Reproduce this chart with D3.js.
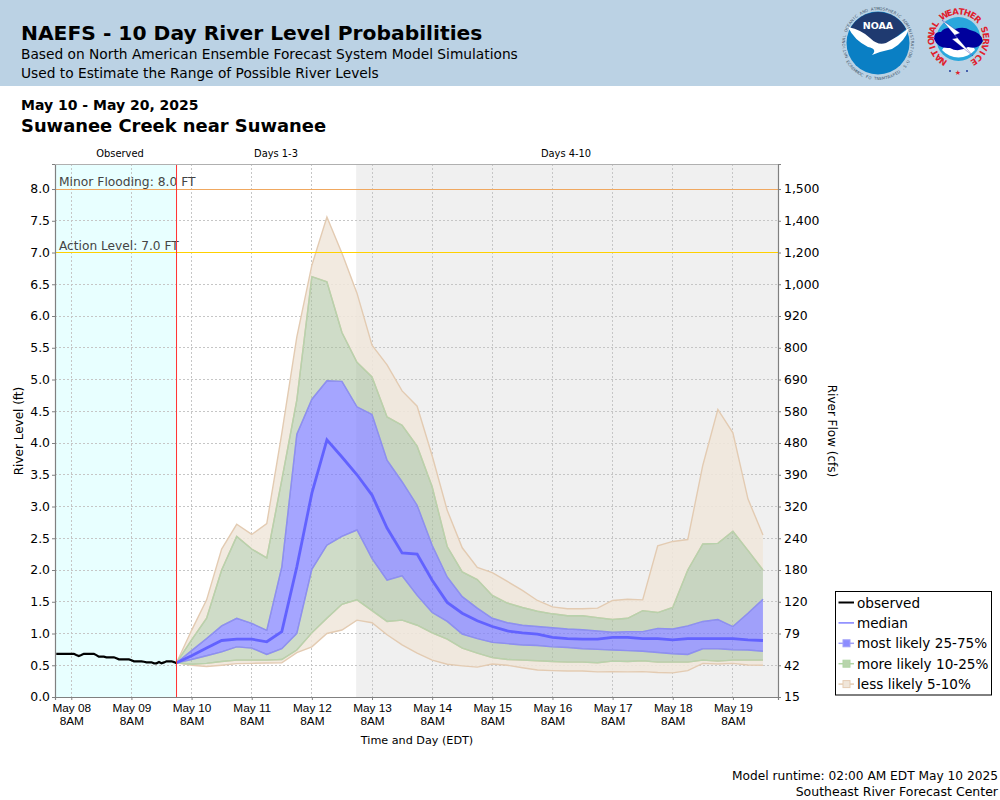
<!DOCTYPE html>
<html>
<head>
<meta charset="utf-8">
<script src="https://cdn.jsdelivr.net/npm/d3@7"></script>
<style>
  html, body { margin: 0; padding: 0; background: #fff; }
  svg { display: block; font-family: "DejaVu Sans", sans-serif; }
</style>
</head>
<body>
<div id="d3"></div>
<script>
// river level in ft, hourly from May 08 2AM
const observed = [
  0.68, 0.68, 0.68, 0.68, 0.68, 0.68, 0.68, 0.68, 0.66, 0.645, 0.66, 0.68, 0.68, 0.68, 0.68, 0.68,
  0.66, 0.635, 0.635, 0.635, 0.625, 0.625, 0.625, 0.625, 0.61, 0.593, 0.593, 0.593, 0.593, 0.593,
  0.58, 0.562, 0.562, 0.562, 0.562, 0.555, 0.546, 0.546, 0.546, 0.53, 0.53, 0.55, 0.53, 0.545,
  0.562, 0.562, 0.562, 0.55, 0.53
];

// forecast percentiles in ft, 6-hourly from May 10 2AM
const p95 = [
  0.54, 1.05, 1.53, 2.33, 2.72, 2.56, 2.73, 4.15, 5.67, 6.8, 7.56, 6.99, 6.36, 5.54, 5.23, 4.82, 4.58, 3.8, 2.94, 2.35,
  2.04, 1.96, 1.82, 1.68, 1.52, 1.42, 1.39, 1.39, 1.4, 1.52, 1.54, 1.53, 2.38, 2.45, 2.48, 3.65, 4.53, 4.16, 3.12, 2.55
];
const p90 = [
  0.54, 0.9, 1.24, 2.0, 2.53, 2.33, 2.19, 3.42, 4.68, 6.62, 6.54, 5.74, 5.27, 5.04, 4.41, 4.28, 3.95, 3.31, 2.37, 1.97,
  1.85, 1.6, 1.48, 1.41, 1.35, 1.31, 1.28, 1.28, 1.25, 1.22, 1.24, 1.36, 1.33, 1.41, 2.0, 2.41, 2.42, 2.61, 2.31, 2.0
];
const p75 = [
  0.54, 0.73, 0.92, 1.12, 1.24, 1.16, 1.05, 2.05, 4.14, 4.69, 4.98, 4.97, 4.57, 4.45, 3.73, 3.39, 3.02, 2.39, 1.89, 1.58,
  1.4, 1.24, 1.17, 1.13, 1.11, 1.09, 1.07, 1.06, 1.04, 1.02, 1.03, 1.03, 1.08, 1.07, 1.12, 1.19, 1.22, 1.11, 1.32, 1.54
];
const p50 = [
  0.54, 0.65, 0.77, 0.89, 0.91, 0.91, 0.87, 1.03, 2.05, 3.21, 4.05, 3.78, 3.5, 3.18, 2.66, 2.27, 2.25, 1.84, 1.49, 1.32,
  1.2, 1.11, 1.04, 1.01, 0.99, 0.94, 0.92, 0.91, 0.91, 0.94, 0.94, 0.92, 0.92, 0.9, 0.92, 0.92, 0.92, 0.92, 0.9, 0.89
];
const p25 = [
  0.54, 0.59, 0.65, 0.71, 0.79, 0.77, 0.67, 0.76, 1.0, 2.01, 2.39, 2.53, 2.63, 2.18, 1.84, 1.91, 1.6, 1.33, 1.19, 0.99,
  0.92, 0.86, 0.84, 0.82, 0.81, 0.79, 0.78, 0.76, 0.75, 0.74, 0.73, 0.72, 0.7, 0.68, 0.67, 0.76, 0.76, 0.745, 0.74, 0.72
];
const p10 = [
  0.54, 0.515, 0.53, 0.56, 0.58, 0.58, 0.58, 0.59, 0.74, 1.01, 1.24, 1.46, 1.53, 1.36, 1.19, 1.21, 1.13, 1.01, 0.91, 0.77,
  0.69, 0.62, 0.59, 0.58, 0.57, 0.56, 0.55, 0.55, 0.54, 0.565, 0.56, 0.57, 0.55, 0.55, 0.55, 0.58, 0.565, 0.58, 0.58, 0.58
];
const p05 = [
  0.54, 0.5, 0.48, 0.5, 0.525, 0.53, 0.535, 0.54, 0.7, 0.79, 1.0, 1.055, 1.21, 1.17, 0.98, 0.82, 0.69, 0.58, 0.515, 0.49,
  0.47, 0.52, 0.5, 0.46, 0.425, 0.415, 0.41, 0.41, 0.395, 0.4, 0.395, 0.4, 0.385, 0.38, 0.415, 0.53, 0.52, 0.53, 0.505, 0.5
];

const levelTicks = [0, 0.5, 1, 1.5, 2, 2.5, 3, 3.5, 4, 4.5, 5, 5.5, 6, 6.5, 7, 7.5, 8];
const flowLabels = ["15", "42", "79", "120", "180", "240", "320", "390", "480", "580", "690", "800", "920", "1,000", "1,200", "1,400", "1,500"];
const dayLabels = ["May 08", "May 09", "May 10", "May 11", "May 12", "May 13", "May 14", "May 15", "May 16", "May 17", "May 18", "May 19"];
const legendLabels = ["observed", "median", "most likely 25-75%", "more likely 10-25%", "less likely 5-10%"];

const width = 1000;
const height = 800;
const margin = { top: 164, right: 222, bottom: 103, left: 55 };

const svg = d3.select("#d3").append("svg").attr("width", width).attr("height", height);

function addText(x, y, str, size, weight = "normal", anchor = "start", fill = "#000") {
  return svg
    .append("text")
    .attr("x", x)
    .attr("y", y)
    .attr("font-size", size)
    .attr("font-weight", weight)
    .attr("text-anchor", anchor)
    .attr("fill", fill)
    .text(str);
}

// header
svg.append("rect").attr("width", width).attr("height", 86).attr("fill", "#bbd2e4");
addText(21, 40, "NAEFS - 10 Day River Level Probabilities", 20.25, "bold");
addText(21, 59, "Based on North American Ensemble Forecast System Model Simulations", 13.76);
addText(21, 78, "Used to Estimate the Range of Possible River Levels", 13.76);
addText(21, 110, "May 10 - May 20, 2025", 14, "bold");
addText(21, 132, "Suwanee Creek near Suwanee", 17.9, "bold");

const t0 = new Date(Date.UTC(2025, 4, 8, 1, 30));
const t1 = new Date(Date.UTC(2025, 4, 20, 2, 0));
const now = new Date(Date.UTC(2025, 4, 10, 2, 0));
const day4 = new Date(Date.UTC(2025, 4, 13, 1, 40));
const obsStart = new Date(Date.UTC(2025, 4, 8, 2, 0));

const x = d3.scaleUtc().domain([t0, t1]).range([margin.left, width - margin.right]);
const y = d3.scaleLinear().domain([0, 8.394]).range([height - margin.bottom, margin.top]);
const plotTop = margin.top;
const plotBottom = height - margin.bottom;
const plotLeft = margin.left;
const plotRight = width - margin.right;

const tickDates = dayLabels.map((d, i) => new Date(Date.UTC(2025, 4, 8 + i, 8)));
const obsTimes = observed.map((d, i) => d3.utcHour.offset(obsStart, i));
const fcstTimes = p50.map((d, i) => d3.utcHour.offset(now, i * 6));

// background periods
svg.append("rect").attr("x", plotLeft).attr("y", plotTop).attr("width", x(now) - plotLeft)
  .attr("height", plotBottom - plotTop).attr("fill", "#e8ffff");
svg.append("rect").attr("x", x(day4)).attr("y", plotTop).attr("width", plotRight - x(day4))
  .attr("height", plotBottom - plotTop).attr("fill", "#f0f0f0");

// grid
const grid = svg.append("g").attr("stroke", "#c6c6c6").attr("stroke-dasharray", "2,2").attr("stroke-width", 1)
  .attr("shape-rendering", "crispEdges");
grid.selectAll(".gx").data(tickDates).enter().append("line")
  .attr("x1", (d) => x(d)).attr("x2", (d) => x(d)).attr("y1", plotTop).attr("y2", plotBottom);
grid.selectAll(".gy").data(levelTicks.filter((d) => d > 0 && d !== 7 && d !== 8)).enter().append("line")
  .attr("x1", plotLeft).attr("x2", plotRight).attr("y1", (d) => y(d)).attr("y2", (d) => y(d));

// probability bands
function ribbon(lo, hi, fill, stroke) {
  const area = d3.area().x((d, i) => x(fcstTimes[i])).y0((d, i) => y(lo[i])).y1((d, i) => y(hi[i]));
  svg.append("path").datum(lo).attr("d", area).attr("fill", fill).attr("stroke", "none");
  const edge = d3.line().x((d, i) => x(fcstTimes[i])).y((d) => y(d));
  svg.append("path").datum(lo).attr("d", edge).attr("fill", "none").attr("stroke", stroke).attr("stroke-width", 1.4);
  svg.append("path").datum(hi).attr("d", edge).attr("fill", "none").attr("stroke", stroke).attr("stroke-width", 1.4);
}
const tanFill = "rgba(240,230,218,0.85)";
const tanEdge = "#e3cbb2";
const greenFill = "rgba(170,193,157,0.56)";
const greenEdge = "#b8d2ac";
const blueFill = "rgba(122,122,255,0.68)";
const blueEdge = "#8e8ef2";
ribbon(p05, p10, tanFill, tanEdge);
ribbon(p90, p95, tanFill, tanEdge);
ribbon(p10, p25, greenFill, greenEdge);
ribbon(p75, p90, greenFill, greenEdge);
ribbon(p25, p75, blueFill, blueEdge);

svg.append("path").datum(p50)
  .attr("d", d3.line().x((d, i) => x(fcstTimes[i])).y((d) => y(d)))
  .attr("fill", "none").attr("stroke", "#6262ff").attr("stroke-width", 2.8);

svg.append("path").datum(observed)
  .attr("d", d3.line().x((d, i) => x(obsTimes[i])).y((d) => y(d)))
  .attr("fill", "none").attr("stroke", "#000").attr("stroke-width", 2.2);

// thresholds
svg.append("line").attr("x1", plotLeft).attr("x2", plotRight).attr("y1", y(8)).attr("y2", y(8))
  .attr("stroke", "#f0a860").attr("stroke-width", 1).attr("shape-rendering", "crispEdges");
svg.append("line").attr("x1", plotLeft).attr("x2", plotRight).attr("y1", y(7)).attr("y2", y(7))
  .attr("stroke", "#ffd000").attr("stroke-width", 1).attr("shape-rendering", "crispEdges");
addText(59, 186, "Minor Flooding: 8.0 FT", 12.3, "normal", "start", "#444");
addText(59, 250, "Action Level: 7.0 FT", 12.2, "normal", "start", "#444");

svg.append("line").attr("x1", x(now)).attr("x2", x(now)).attr("y1", plotTop).attr("y2", plotBottom)
  .attr("stroke", "#ff3030").attr("stroke-width", 1);

// axes
const yAxis = svg.append("g").attr("transform", `translate(${plotLeft},0)`)
  .call(d3.axisLeft(y).tickValues(levelTicks).tickFormat(d3.format(".1f")).tickSize(3).tickPadding(2));
const yAxisRight = svg.append("g").attr("transform", `translate(${plotRight},0)`)
  .call(d3.axisRight(y).tickValues(levelTicks).tickFormat((d, i) => flowLabels[i]).tickSize(3).tickPadding(3));
const xAxis = svg.append("g").attr("transform", `translate(0,${plotBottom})`)
  .call(d3.axisBottom(x).tickValues(tickDates).tickFormat("").tickSize(3));

xAxis.selectAll(".tick").append("text")
  .attr("fill", "#000").attr("font-size", 11.8).attr("y", 15).attr("text-anchor", "middle")
  .text((d, i) => dayLabels[i]);
xAxis.selectAll(".tick").append("text")
  .attr("fill", "#000").attr("font-size", 11.8).attr("y", 27.5).attr("text-anchor", "middle")
  .text("8AM");

for (const a of [yAxis, yAxisRight]) a.selectAll("text").attr("font-size", 12.4).attr("font-family", "DejaVu Sans");
for (const a of [yAxis, yAxisRight, xAxis]) {
  a.select(".domain").attr("stroke", "#808080").attr("stroke-width", 1.2);
  a.selectAll("line").attr("stroke", "#808080");
}

svg.append("line").attr("x1", plotLeft).attr("x2", plotRight).attr("y1", plotTop + 0.5).attr("y2", plotTop + 0.5)
  .attr("stroke", "#b0b0b0").attr("stroke-width", 1);

// period labels and axis titles
addText(120, 157, "Observed", 9.9, "normal", "middle");
addText(276, 157, "Days 1-3", 9.9, "normal", "middle");
addText(566, 157, "Days 4-10", 9.9, "normal", "middle");
addText(417, 744, "Time and Day (EDT)", 11.2, "normal", "middle");
addText(0, 0, "River Level (ft)", 12, "normal", "middle").attr("transform", "translate(22.5,431) rotate(-90)");
addText(0, 0, "River Flow (cfs)", 12, "normal", "middle").attr("transform", "translate(828,431) rotate(90)");

// legend
const legend = svg.append("g");
legend.append("rect").attr("x", 835.5).attr("y", 591.5).attr("width", 156).attr("height", 103.5)
  .attr("fill", "#fff").attr("stroke", "#000").attr("stroke-width", 1);
const legendLine = ["#000", "#8080ff", "#a0a0f8", "#b0d4a4", "#e5cdb4"];
const legendBox = [null, null, "#8c8cff", "#b8d4ac", "#f0e6da"];
legendLabels.forEach((label, i) => {
  const ly = 602.5 + i * 20.4;
  legend.append("line").attr("x1", 838.5).attr("x2", 854).attr("y1", ly).attr("y2", ly)
    .attr("stroke", legendLine[i]).attr("stroke-width", i === 0 ? 2 : 1.5);
  if (legendBox[i]) {
    legend.append("rect").attr("x", 843).attr("y", ly - 3.5).attr("width", 7).attr("height", 7)
      .attr("fill", legendBox[i]).attr("stroke", legendLine[i]);
  }
  addText(857, ly + 5, label, 13.6);
});

// footer
addText(998, 780, "Model runtime: 02:00 AM EDT May 10 2025", 12.2, "normal", "end");
addText(998, 796, "Southeast River Forecast Center", 12.5, "normal", "end");

// logos, ring lettering placed one glyph at a time
function ringTop(cx, cy, r, a0, a1, str, size, fill, weight) {
  const chars = Array.from(str);
  chars.forEach((c, i) => {
    const a = a0 + ((a1 - a0) * i) / (chars.length - 1);
    const rad = (a * Math.PI) / 180;
    svg.append("text").attr("font-size", size).attr("fill", fill).attr("font-weight", weight)
      .attr("text-anchor", "middle")
      .attr("transform", `translate(${cx + r * Math.sin(rad)},${cy - r * Math.cos(rad)}) rotate(${a})`)
      .text(c);
  });
}
function ringBottom(cx, cy, r, a0, a1, str, size, fill) {
  const chars = Array.from(str);
  chars.forEach((c, i) => {
    const a = a0 + ((a1 - a0) * i) / (chars.length - 1);
    const rad = (a * Math.PI) / 180;
    svg.append("text").attr("font-size", size).attr("fill", fill).attr("text-anchor", "middle")
      .attr("transform", `translate(${cx + r * Math.sin(rad)},${cy + r * Math.cos(rad)}) rotate(${-a})`)
      .text(c);
  });
}

// NOAA
const noaa = svg.append("g");
noaa.append("circle").attr("cx", 878).attr("cy", 43).attr("r", 31.5).attr("fill", "#0a7fc4");
noaa.append("path").attr("fill", "#1f3a70")
  .attr("d", "M850,29A31.5,31.5 0 0 1 906,29L880,50Z");
noaa.append("path").attr("fill", "#fff")
  .attr("d", "M848,27Q862,30 870,38Q878,46 886,43Q898,37 909,28Q905,42 892,49L880,52L872,55Q878,49 868,47Q854,40 848,27Z");
noaa.append("text").attr("x", 878).attr("y", 29).attr("text-anchor", "middle").attr("font-size", 9.5)
  .attr("font-weight", "bold").attr("fill", "#fff").text("NOAA");
ringTop(878, 43, 33, -113, 113, "NATIONAL OCEANIC AND ATMOSPHERIC ADMINISTRATION", 4, "#46586c", "normal");
ringBottom(878, 43, 37, 58, -58, "U.S. DEPARTMENT OF COMMERCE", 4, "#46586c");

// NWS
const nws = svg.append("g");
nws.append("circle").attr("cx", 958.5).attr("cy", 39).attr("r", 22).attr("fill", "#2aa7dc");
nws.append("path").attr("fill", "#fff").attr("d", "M942,50A22,22 0 0 0 975,50L972,44L946,44Z");
nws.append("path").attr("fill", "#00009c")
  .attr("d", "M934,39Q934,31 941,32Q945,26 955,29Q964,26 970,30Q982,33 983,41Q979,50 968,47Q958,53 950,48Q938,49 934,39Z");
nws.append("path").attr("fill", "#fff").attr("stroke", "#00009c").attr("stroke-width", 0.3)
  .attr("d", "M942,20L960,33L955,35L973,56L952,39L957,38Z");
ringTop(958.5, 39, 24.5, -146, 146, "NATIONAL WEATHER SERVICE", 8.6, "#e0202c", "bold");
addText(958, 75, "★", 7, "normal", "middle", "#e0202c");
svg.append("circle").attr("cx", 950).attr("cy", 71).attr("r", 1).attr("fill", "#1f3a9c");
svg.append("circle").attr("cx", 967).attr("cy", 71).attr("r", 1).attr("fill", "#1f3a9c");
</script>
</body>
</html>
